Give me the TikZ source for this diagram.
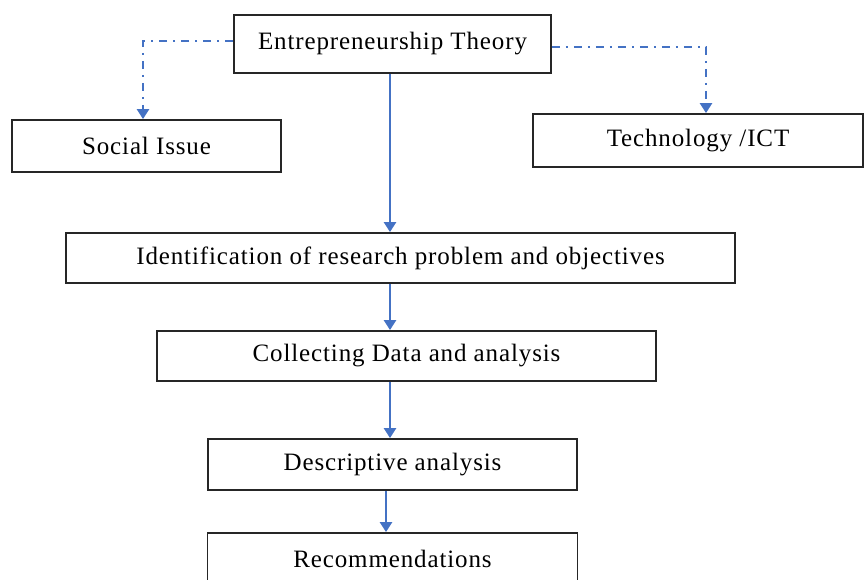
\documentclass[tikz,border=0pt]{standalone}
\usepackage{fontspec}
\setmainfont{Liberation Serif}[LetterSpace=3.5]
\usetikzlibrary{arrows.meta}
\definecolor{lineblue}{RGB}{68,114,196}
\begin{document}
\begin{tikzpicture}[x=1pt,y=-1pt,
  box/.style={draw=black!85,line width=1.8pt,fill=white,inner sep=0pt,font=\fontsize{25}{28}\selectfont},
  flow/.style={draw=lineblue,line width=2.4pt,-{Triangle[width=12pt,length=10pt]}},
  dd/.style={draw=lineblue,line width=2.4pt,dash pattern=on 8pt off 6pt on 2pt off 6pt,-{Triangle[width=12pt,length=10pt]}}]
\useasboundingbox (0,0) rectangle (865,579);
\node[box,minimum width=317pt,minimum height=58pt] (ent) at (392.5,44) {Entrepreneurship Theory};
\node[box,minimum width=269pt,minimum height=52pt] (soc) at (146.5,146) {Social Issue};
\node[box,minimum width=330pt,minimum height=53pt] (tech) at (698,140.5) {Technology /ICT};
\node[box,minimum width=669pt,minimum height=50pt] (ident) at (400.5,258) {Identification of research problem and objectives};
\node[box,minimum width=499pt,minimum height=50pt] (coll) at (406.5,356) {Collecting Data and analysis};
\node[box,minimum width=369pt,minimum height=51pt] (desc) at (392.5,464.5) {Descriptive analysis};
\node[box,minimum width=370pt,minimum height=52pt] (rec) at (392.5,559) {Recommendations};
\coordinate (ax) at (390,0);
\coordinate (ax2) at (386,0);
\coordinate (lx) at (143,41);
\coordinate (rx) at (706,47);
\draw[flow] (ent.south -| ax) -- (ident.north -| ax);
\draw[flow] (ident.south -| ax) -- (coll.north -| ax);
\draw[flow] (coll.south -| ax) -- (desc.north -| ax);
\draw[flow] (desc.south -| ax2) -- (rec.north -| ax2);
\draw[dd] (ent.west |- lx) -- (lx) -- (soc.north -| lx);
\draw[dd] (ent.east |- rx) -- (rx) -- (tech.north -| rx);
\end{tikzpicture}
\end{document}
